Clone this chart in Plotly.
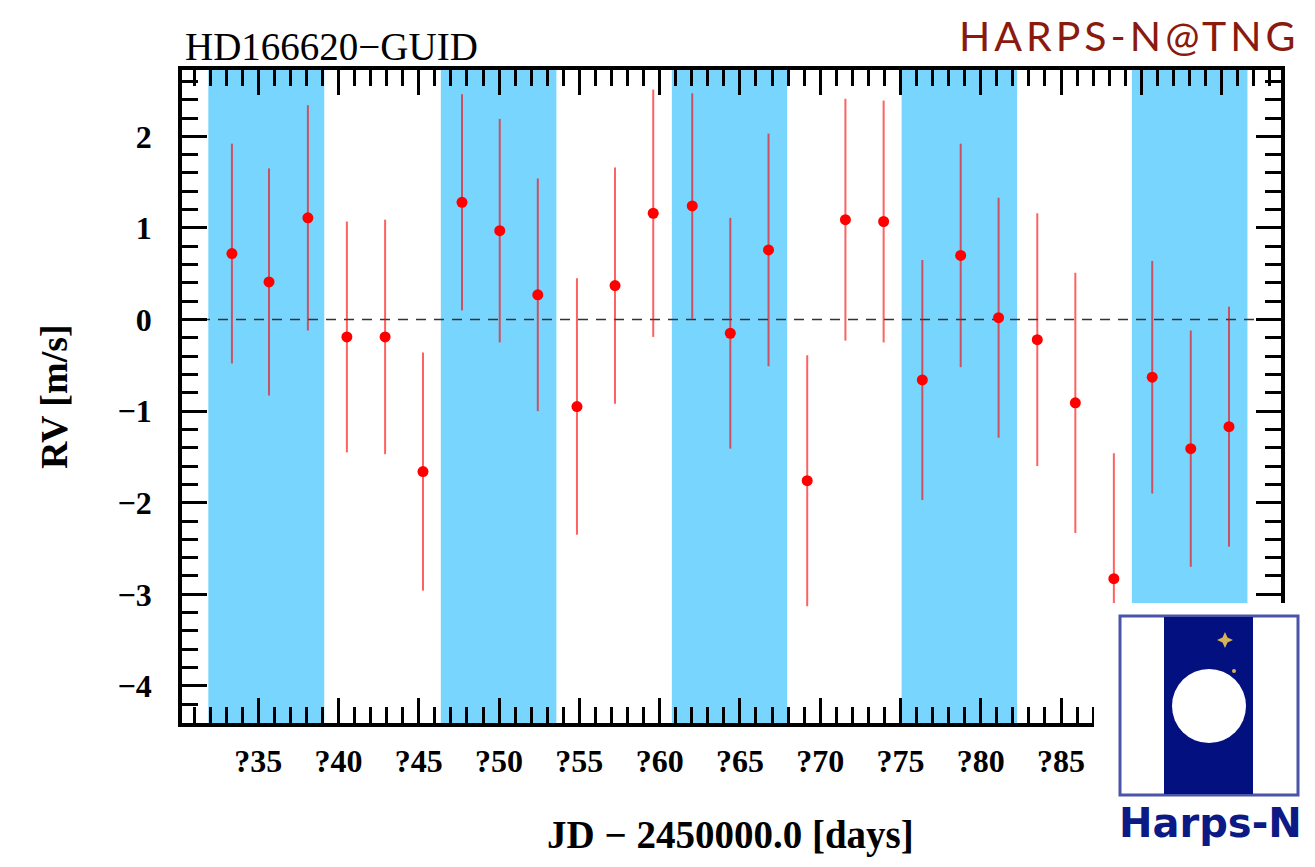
import plotly.graph_objects as go

# ---------------- data ----------------
jd = [33.36, 35.67, 38.09, 40.52, 42.90, 45.26, 47.69, 50.04, 52.41, 54.85,
      57.22, 59.60, 62.03, 64.40, 66.78, 69.19, 71.57, 73.95, 76.36, 78.75,
      81.11, 83.52, 85.89, 88.29, 90.68, 93.08, 95.46]
rv = [0.72, 0.41, 1.11, -0.19, -0.19, -1.66, 1.28, 0.97, 0.27, -0.95,
      0.37, 1.16, 1.24, -0.15, 0.76, -1.76, 1.09, 1.07, -0.66, 0.70,
      0.02, -0.22, -0.91, -2.83, -0.63, -1.41, -1.17]
rv_err = [1.20, 1.24, 1.23, 1.26, 1.28, 1.30, 1.18, 1.22, 1.27, 1.40,
          1.29, 1.35, 1.23, 1.26, 1.27, 1.37, 1.32, 1.32, 1.31, 1.22,
          1.31, 1.38, 1.42, 1.37, 1.27, 1.29, 1.31]
band_start = [31.89, 46.37, 60.76, 75.07, 89.41]
band_end = [39.11, 53.57, 67.94, 82.26, 96.61]
x_tickvals = [35, 40, 45, 50, 55, 60, 65, 70, 75, 80, 85, 90, 95]
x_ticktext = ["?35", "?40", "?45", "?50", "?55", "?60", "?65", "?70", "?75", "?80", "?85", "", ""]

# ---------------- geometry helpers (page pixels -> paper) ----------------
OFF = 8                      # default page margin around the figure
W, H = 1315 - OFF, 867 - OFF
L, T = 182 - OFF, 70 - OFF
PW, PH = 1099, 653
R, B = W - L - PW, H - T - PH


def px(x):
    return (x - OFF - L) / PW


def py(y):
    return (T + PH - (y - OFF)) / PH


fig = go.Figure()
fig.add_trace(go.Scatter(
    x=jd, y=rv, mode="markers",
    marker=dict(color="#ff0000", size=11, line=dict(width=0)),
    error_y=dict(type="data", array=rv_err, color="rgba(255,0,0,0.62)", thickness=2, width=0),
    showlegend=False, hoverinfo="skip"))

shapes = []
for s, e in zip(band_start, band_end):
    shapes.append(dict(type="rect", xref="x", yref="paper", x0=s, x1=e, y0=0, y1=1,
                       fillcolor="#78d5fe", line=dict(width=0), layer="below"))
shapes.append(dict(type="line", xref="paper", yref="y", x0=0, x1=1, y0=0, y1=0,
                   line=dict(color="#333333", width=1.5, dash="10px,8px"), layer="below"))

# white area of the logo, covering the lower-right corner
shapes.append(dict(type="rect", xref="paper", yref="paper", x0=px(1094), x1=px(1330),
                   y0=py(880), y1=py(603), fillcolor="white", line=dict(width=0), layer="above"))
# logo
shapes.append(dict(type="rect", xref="paper", yref="paper", x0=px(1120), x1=px(1298),
                   y0=py(795), y1=py(616), fillcolor="white",
                   line=dict(color="#4a55aa", width=3), layer="above"))
shapes.append(dict(type="rect", xref="paper", yref="paper", x0=px(1164), x1=px(1253),
                   y0=py(794), y1=py(617), fillcolor="#03107f", line=dict(width=0), layer="above"))
shapes.append(dict(type="circle", xref="paper", yref="paper", x0=px(1172), x1=px(1246),
                   y0=py(743), y1=py(669), fillcolor="white", line=dict(width=0), layer="above"))
cx, cy, ro, ri = 1225, 640, 8, 2.5
pts = [(cx, cy - ro), (cx + ri, cy - ri), (cx + ro, cy), (cx + ri, cy + ri),
       (cx, cy + ro), (cx - ri, cy + ri), (cx - ro, cy), (cx - ri, cy - ri)]
path = "M " + " L ".join(f"{px(a):.5f},{py(b):.5f}" for a, b in pts) + " Z"
shapes.append(dict(type="path", xref="paper", yref="paper", path=path,
                   fillcolor="#d9b258", line=dict(width=0), layer="above"))
shapes.append(dict(type="circle", xref="paper", yref="paper", x0=px(1232), x1=px(1236),
                   y0=py(673), y1=py(669), fillcolor="#d9b258", line=dict(width=0), layer="above"))

serif = "Liberation Serif"
annotations = [
    dict(text="HD166620−GUID", x=px(183), y=py(47), xanchor="left", yanchor="middle",
         font=dict(family=serif, size=39, color="black")),
    dict(text='<span style="letter-spacing:4px">HARPS-N@TNG</span>', x=px(1302), y=py(35),
         xanchor="right", yanchor="middle",
         font=dict(family="Lato", size=41, color="#8b1a0e")),
    dict(text="RV [m/s]", x=px(54), y=py(397), xanchor="center", yanchor="middle", textangle=-90,
         font=dict(family=serif, size=38, color="black", weight="bold")),
    dict(text="JD − 2450000.0 [days]", x=px(730), y=py(835), xanchor="center", yanchor="middle",
         font=dict(family=serif, size=39, color="black", weight="bold")),
    dict(text="Harps-N", x=px(1210), y=py(823), xanchor="center", yanchor="middle",
         font=dict(family="DejaVu Sans", size=40, color="#0b1a85", weight="bold")),
]
for a in annotations:
    a.update(xref="paper", yref="paper", showarrow=False)

axis_common = dict(showline=True, linewidth=3.5, linecolor="black", mirror="allticks",
                   ticks="inside", ticklen=25, tickwidth=3, tickcolor="black",
                   showgrid=False, zeroline=False,
                   tickfont=dict(family=serif, size=32, color="black", weight="bold"))

fig.update_layout(
    width=W, height=H,
    margin=dict(l=L, r=R, t=T, b=B),
    paper_bgcolor="white", plot_bgcolor="white",
    shapes=shapes, annotations=annotations,
    xaxis=dict(range=[30.25, 98.70], tickmode="array", tickvals=x_tickvals, ticktext=x_ticktext,
               minor=dict(tickmode="linear", tick0=0, dtick=1, ticks="inside", ticklen=16,
                          tickwidth=3, tickcolor="black"),
               ticklabelstandoff=7, **axis_common),
    yaxis=dict(range=[-4.405, 2.724], tickmode="linear", tick0=0, dtick=1,
               minor=dict(tickmode="linear", tick0=0, dtick=0.2, ticks="inside", ticklen=16,
                          tickwidth=3, tickcolor="black"),
               ticklabelstandoff=20, **axis_common),
)

fig.write_html("out.html")
